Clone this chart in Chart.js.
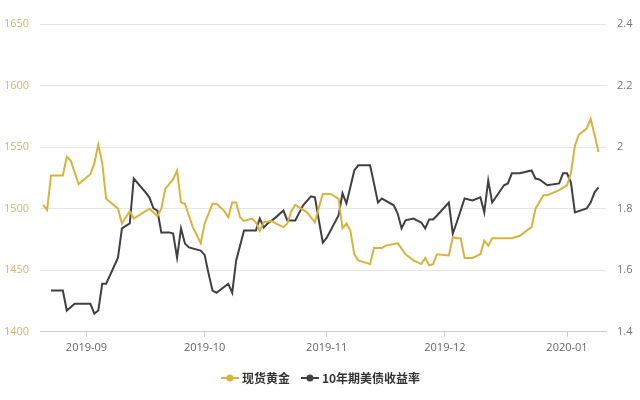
<!DOCTYPE html>
<html>
<head>
<meta charset="utf-8">
<script src="https://cdn.jsdelivr.net/npm/chart.js@4/dist/chart.umd.min.js"></script>
<style>
  html, body { margin: 0; padding: 0; background: #fff; }
  #wrap { width: 640px; height: 400px; }
</style>
</head>
<body>
<div id="wrap"><canvas id="grafico"></canvas></div>
<script>
// 现货黄金 (left axis)
const goldDates = [
  "2019-08-21","2019-08-22","2019-08-23","2019-08-26","2019-08-27","2019-08-28","2019-08-30",
  "2019-09-02","2019-09-03","2019-09-04","2019-09-05","2019-09-06","2019-09-09","2019-09-10",
  "2019-09-11","2019-09-12","2019-09-13","2019-09-15","2019-09-17","2019-09-19","2019-09-20",
  "2019-09-21","2019-09-22","2019-09-23","2019-09-24","2019-09-25","2019-09-26","2019-09-28",
  "2019-09-30","2019-10-01","2019-10-03","2019-10-04","2019-10-06","2019-10-07","2019-10-08",
  "2019-10-09","2019-10-10","2019-10-11","2019-10-13","2019-10-14","2019-10-15","2019-10-16",
  "2019-10-18","2019-10-19","2019-10-21","2019-10-22","2019-10-23","2019-10-24","2019-10-25",
  "2019-10-27","2019-10-28","2019-10-29","2019-10-30","2019-10-31","2019-11-02","2019-11-04",
  "2019-11-05","2019-11-06","2019-11-07","2019-11-08","2019-11-09","2019-11-12","2019-11-13",
  "2019-11-15","2019-11-16","2019-11-19","2019-11-21","2019-11-23","2019-11-25","2019-11-26",
  "2019-11-27","2019-11-28","2019-11-29","2019-12-02","2019-12-03","2019-12-04","2019-12-05",
  "2019-12-06","2019-12-08","2019-12-10","2019-12-11","2019-12-12","2019-12-13","2019-12-18",
  "2019-12-20","2019-12-23","2019-12-24","2019-12-26","2019-12-27","2019-12-30","2020-01-01",
  "2020-01-02","2020-01-03","2020-01-04","2020-01-06","2020-01-07","2020-01-08","2020-01-09"
];
const goldValues = [
  1503, 1499, 1527, 1527, 1542, 1539, 1520,
  1528, 1537, 1552, 1537, 1508, 1500, 1488,
  1493, 1498, 1492, 1496, 1500, 1494, 1500,
  1516, 1520, 1524, 1531, 1505, 1504, 1485,
  1472, 1488, 1504, 1504, 1498, 1493, 1505,
  1505, 1493, 1490, 1492, 1489, 1482, 1489,
  1490, 1488, 1485, 1488, 1498, 1503, 1501,
  1497, 1493, 1489, 1501, 1512, 1512, 1508,
  1484, 1488, 1482, 1463, 1458, 1455, 1468,
  1468, 1470, 1472, 1463, 1458, 1455, 1460,
  1454, 1455, 1463, 1462, 1477, 1476, 1476,
  1460, 1460, 1463, 1474, 1470, 1476, 1476,
  1478, 1485, 1500, 1511, 1511, 1515, 1519,
  1529, 1551, 1560, 1565, 1573, 1560, 1546
];

// 10年期美债收益率 (right axis)
const yieldDates = [
  "2019-08-23","2019-08-26","2019-08-27","2019-08-29","2019-09-02","2019-09-03","2019-09-04",
  "2019-09-05","2019-09-06","2019-09-09","2019-09-10","2019-09-12","2019-09-13","2019-09-16",
  "2019-09-17","2019-09-18","2019-09-19","2019-09-20","2019-09-22","2019-09-23","2019-09-24",
  "2019-09-25","2019-09-26","2019-09-27","2019-09-30","2019-10-01","2019-10-02","2019-10-03",
  "2019-10-04","2019-10-07","2019-10-08","2019-10-09","2019-10-11","2019-10-14","2019-10-15",
  "2019-10-16","2019-10-17","2019-10-19","2019-10-21","2019-10-22","2019-10-24","2019-10-26",
  "2019-10-28","2019-10-29","2019-10-30","2019-10-31","2019-11-01","2019-11-04","2019-11-05",
  "2019-11-06","2019-11-08","2019-11-09","2019-11-12","2019-11-13","2019-11-14","2019-11-15",
  "2019-11-18","2019-11-19","2019-11-20","2019-11-21","2019-11-23","2019-11-25","2019-11-26",
  "2019-11-27","2019-11-28","2019-11-29","2019-12-02","2019-12-03","2019-12-04","2019-12-06",
  "2019-12-08","2019-12-10","2019-12-11","2019-12-12","2019-12-13","2019-12-16","2019-12-17",
  "2019-12-18","2019-12-20","2019-12-23","2019-12-24","2019-12-25","2019-12-27","2019-12-30",
  "2019-12-31","2020-01-01","2020-01-02","2020-01-03","2020-01-06","2020-01-07","2020-01-08",
  "2020-01-09"
];
const yieldValues = [
  1.534, 1.534, 1.469, 1.491, 1.491, 1.459, 1.469,
  1.556, 1.556, 1.641, 1.736, 1.752, 1.898, 1.853,
  1.836, 1.801, 1.794, 1.723, 1.723, 1.719, 1.641,
  1.736, 1.687, 1.674, 1.664, 1.650, 1.589, 1.534,
  1.527, 1.556, 1.527, 1.631, 1.729, 1.729, 1.768,
  1.739, 1.752, 1.771, 1.794, 1.762, 1.762, 1.811,
  1.840, 1.837, 1.762, 1.690, 1.706, 1.778, 1.850,
  1.817, 1.924, 1.941, 1.941, 1.882, 1.820, 1.833,
  1.811, 1.784, 1.736, 1.762, 1.768, 1.755, 1.736,
  1.765, 1.765, 1.778, 1.820, 1.719, 1.755, 1.833,
  1.827, 1.837, 1.788, 1.892, 1.820, 1.876, 1.882,
  1.915, 1.915, 1.924, 1.898, 1.895, 1.876, 1.882,
  1.915, 1.915, 1.885, 1.788, 1.801, 1.820, 1.853,
  1.869
];

const tickDates  = ["2019-09-01", "2019-10-01", "2019-11-01", "2019-12-01", "2020-01-01"];
const tickLabels = ["2019-09", "2019-10", "2019-11", "2019-12", "2020-01"];

const origem = Date.parse("2019-09-01");
function diaIndice(dataISO) {
  return (Date.parse(dataISO) - origem) / 864e5;
}

function montarPontos(datas, valores) {
  return datas.map((d, i) => ({ x: diaIndice(d), y: valores[i] }));
}

function iconeLegenda(cor) {
  const c = document.createElement("canvas");
  c.width = 20; c.height = 10;
  const ctx = c.getContext("2d");
  ctx.strokeStyle = cor;
  ctx.lineWidth = 2;
  ctx.beginPath(); ctx.moveTo(1, 5); ctx.lineTo(19, 5); ctx.stroke();
  ctx.fillStyle = cor;
  ctx.beginPath(); ctx.arc(10, 5, 3.5, 0, Math.PI * 2); ctx.fill();
  return c;
}

const corOuro = "#d6b43e";
const corJuros = "#404040";
const tickValues = tickDates.map(diaIndice);

new Chart(document.getElementById("grafico"), {
  type: "line",
  data: {
    datasets: [
      {
        label: "现货黄金",
        data: montarPontos(goldDates, goldValues),
        borderColor: corOuro,
        backgroundColor: corOuro,
        borderWidth: 2,
        pointRadius: 0,
        pointStyle: iconeLegenda(corOuro),
        yAxisID: "y",
        tension: 0
      },
      {
        label: "10年期美债收益率",
        data: montarPontos(yieldDates, yieldValues),
        borderColor: corJuros,
        backgroundColor: corJuros,
        borderWidth: 2,
        pointRadius: 0,
        pointStyle: iconeLegenda(corJuros),
        yAxisID: "y1",
        tension: 0
      }
    ]
  },
  options: {
    responsive: true,
    maintainAspectRatio: false,
    animation: false,
    layout: { padding: { left: 4, right: 0, top: 24, bottom: 6 } },
    plugins: {
      legend: {
        position: "bottom",
        labels: {
          usePointStyle: true,
          color: "#333",
          padding: 14,
          font: { family: "'Noto Sans CJK SC'", size: 12, weight: "bold" }
        }
      },
      tooltip: { enabled: false }
    },
    scales: {
      x: {
        type: "linear",
        min: diaIndice("2019-08-20") + 0.2,
        max: diaIndice("2020-01-10") + 0.9,
        afterBuildTicks: scale => { scale.ticks = tickValues.map(v => ({ value: v })); },
        ticks: {
          color: "#666",
          font: { family: "'Open Sans'", size: 11 },
          padding: 4,
          maxRotation: 0,
          callback: v => tickLabels[tickValues.indexOf(v)] || ""
        },
        grid: { drawOnChartArea: false, drawTicks: true, tickLength: 5, color: "#ccc" },
        border: { color: "#ccc" }
      },
      y: {
        position: "left",
        min: 1400,
        max: 1650,
        afterFit: scale => { scale.width = 36; },
        ticks: {
          stepSize: 50,
          color: "#cdb86e",
          crossAlign: "far",
          font: { family: "'Open Sans'", size: 11 },
          callback: v => String(v)
        },
        grid: { color: "#e6e6e6", drawTicks: false },
        border: { display: false }
      },
      y1: {
        position: "right",
        min: 1.4,
        max: 2.4,
        afterFit: scale => { scale.width = 34; },
        ticks: {
          stepSize: 0.2,
          color: "#777",
          padding: 11,
          font: { family: "'Open Sans'", size: 11 },
          callback: v => String(Number(v.toFixed(1)))
        },
        grid: { drawOnChartArea: false, drawTicks: false },
        border: { display: false }
      }
    }
  }
});
</script>
</body>
</html>
